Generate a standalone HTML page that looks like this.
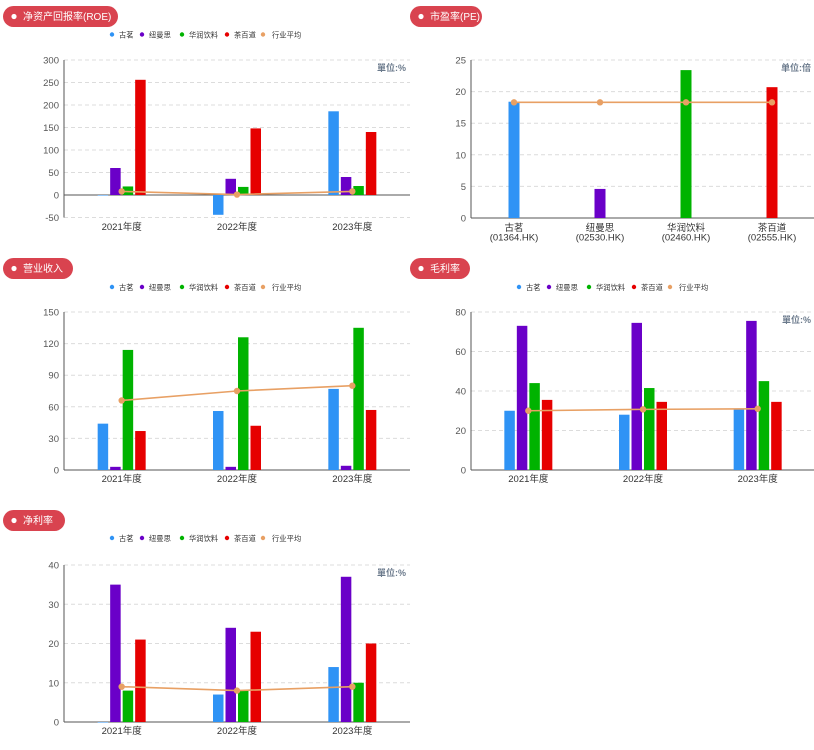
<!DOCTYPE html>
<html><head><meta charset="utf-8">
<style>
body{margin:0;background:#fff;width:814px;height:750px;overflow:hidden;font-family:"Liberation Sans","Noto Sans CJK SC",sans-serif;}
svg{display:block}
</style></head>
<body>
<svg id="chart" width="814" height="750" xmlns="http://www.w3.org/2000/svg" font-family="Liberation Sans, Noto Sans CJK SC, sans-serif"></svg>
<script>
const years = ["2021年度","2022年度","2023年度"];
const companies = ["古茗","纽曼思","华润饮料","茶百道"];
const companyColors = ["#2f93f5","#6a00c8","#00b300","#e60000"];
const avgColor = "#e8a064";

const roeGuming = [0,-44,186];
const roeNiuman = [60,36,40];
const roeHuarun = [19,18,20];
const roeChabai = [256,148,140];
const roeAvg = [8,1,8];
const roeTicks = [-50,0,50,100,150,200,250,300];

const peValues = [18.4,4.6,23.4,20.7];
const peAvg = [18.3,18.3,18.3,18.3];
const peCats = ["古茗\n(01364.HK)","纽曼思\n(02530.HK)","华润饮料\n(02460.HK)","茶百道\n(02555.HK)"];
const peTicks = [0,5,10,15,20,25];

const revGuming = [44,56,77];
const revNiuman = [3,3,4];
const revHuarun = [114,126,135];
const revChabai = [37,42,57];
const revAvg = [66,75,80];
const revTicks = [0,30,60,90,120,150];

const gmGuming = [30,28,31];
const gmNiuman = [73,74.5,75.5];
const gmHuarun = [44,41.5,45];
const gmChabai = [35.5,34.5,34.5];
const gmAvg = [30,30.7,31];
const gmTicks = [0,20,40,60,80];

const nmGuming = [0,7,14];
const nmNiuman = [35,24,37];
const nmHuarun = [8,8,10];
const nmChabai = [21,23,20];
const nmAvg = [9,8,9];
const nmTicks = [0,10,20,30,40];

const svg = document.getElementById('chart');
const NS = "http://www.w3.org/2000/svg";
function mk(tag, attrs, parent){
  const e = document.createElementNS(NS, tag);
  for (const k in attrs) e.setAttribute(k, attrs[k]);
  (parent||svg).appendChild(e);
  return e;
}

function header(x,y,w,title,key){
  const g = mk('g',{});
  
  
  mk('rect',{x:x,y:y,width:w,height:21,rx:10.5,fill:"#d9434f"},g);
  mk('circle',{cx:x+11,cy:y+10.5,r:2.6,fill:"#fff"},g);
  const t = mk('text',{x:x+20,y:y+14,'font-size':10,fill:"#fff"},g);
  t.textContent = title;
}

function legend(y,key,dx){
  const g = mk('g',{transform:"translate("+(dx||0)+",0)"});
  
  
  const dots=[112,142,182,227,263];
  const names=companies.concat(["行业平均"]);
  const cols=companyColors.concat([avgColor]);
  for(let i=0;i<5;i++){
    const it = mk('g',{},g);
    
    
    mk('circle',{cx:dots[i],cy:y,r:2.2,fill:cols[i]},it);
    const t = mk('text',{x:dots[i]+(i==4?9:7),y:y+2.8,'font-size':7.3,fill:"#333"},it);
    t.textContent=names[i];
  }
}

function chart(opt){
  const {key,x0,x1,yTop,yBot,ticks,cats,series,avg,unit,labelY} = opt;
  const g = mk('g',{});
  
  
  const tmin=ticks[0], tmax=ticks[ticks.length-1];
  const ys = v => yBot - (v - tmin)/(tmax-tmin)*(yBot-yTop);
  const band = (x1-x0)/cats.length;
  const xc = i => x0 + band*(i+0.5);
  ticks.forEach(t=>{
    const y=ys(t);
    if(t!==0){
      const l=mk('line',{x1:x0,x2:x1,y1:y,y2:y,stroke:"#dcdcdc",'stroke-dasharray':"4,3",'stroke-width':1},g);
      
      
    }
    const tx=mk('text',{x:x0-5,y:y+3.5,'font-size':9.5,fill:"#555",'text-anchor':"end"},g);
    tx.textContent=t;
  });
  mk('line',{x1:x0,x2:x0,y1:yTop,y2:yBot,stroke:"#555",'stroke-width':1},g);
  const zl = mk('line',{x1:x0,x2:x1,y1:ys(0),y2:ys(0),stroke:"#555",'stroke-width':1},g);
  
  
  if(unit){
    const u=mk('text',{x:x1-4,y:yTop+11,'font-size':9,fill:"#6b7a8c",'font-weight':"bold",'text-anchor':"end"},g);
    u.textContent=unit;
  }
  cats.forEach((c,i)=>{
    const lines=c.split("\n");
    lines.forEach((ln,j)=>{
      const t=mk('text',{x:xc(i),y:labelY+j*9.5,'font-size':9.5,fill:"#333",'text-anchor':"middle"},g);
      t.textContent=ln;
    });
  });
  const bw=10.5, gap=2;
  const n=series.length;
  const groupW=n*bw+(n-1)*gap;
  series.forEach((s,si)=>{
    s.values.forEach((v,i)=>{
      const bx = xc(i)-groupW/2 + si*(bw+gap);
      const y0=ys(0), y1=ys(v);
      const r=mk('rect',{x:bx,y:Math.min(y0,y1),width:bw,height:Math.max(0.5,Math.abs(y1-y0)),fill:s.color},g);
      
      
    });
  });
  const pts = avg.map((v,i)=>xc(i)+","+ys(v)).join(" ");
  const pl=mk('polyline',{points:pts,fill:"none",stroke:avgColor,'stroke-width':1.6},g);
  
  
  avg.forEach((v,i)=>{
    const c=mk('circle',{cx:xc(i),cy:ys(v),r:3.2,fill:avgColor},g);
    
    
  });
}

function four(a,b,c,d){
  return [a,b,c,d].map((v,i)=>({name:companies[i],color:companyColors[i],values:v}));
}

header(3,6,115,"净资产回报率(ROE)","roe");
legend(34.5,"roe");
chart({key:"roe",x0:64,x1:410,yTop:60,yBot:217.5,ticks:roeTicks,cats:years,series:four(roeGuming,roeNiuman,roeHuarun,roeChabai),avg:roeAvg,unit:"單位:%",labelY:230});

header(410,6,72,"市盈率(PE)","pe");
(function(){
  const x0=471,x1=815,yTop=60,yBot=218;
  const g=mk('g',{});
  
  
  const tmax=peTicks[peTicks.length-1];
  const ys=v=>yBot-v/tmax*(yBot-yTop);
  const band=(x1-x0)/peCats.length;
  const xc=i=>x0+band*(i+0.5);
  peTicks.forEach(t=>{
    const y=ys(t);
    if(t!==0) mk('line',{x1:x0,x2:x1,y1:y,y2:y,stroke:"#dcdcdc",'stroke-dasharray':"4,3"},g);
    const tx=mk('text',{x:x0-5,y:y+3.5,'font-size':9.5,fill:"#555",'text-anchor':"end"},g);
    tx.textContent=t;
  });
  mk('line',{x1:x0,x2:x0,y1:yTop,y2:yBot,stroke:"#555"},g);
  mk('line',{x1:x0,x2:x1,y1:yBot,y2:yBot,stroke:"#555"},g);
  const u=mk('text',{x:x1-4,y:yTop+11,'font-size':9,fill:"#6b7a8c",'font-weight':"bold",'text-anchor':"end"},g);
  u.textContent="单位:倍";
  peCats.forEach((c,i)=>{
    c.split("\n").forEach((ln,j)=>{
      const t=mk('text',{x:xc(i),y:231+j*9.5,'font-size':9.5,fill:"#333",'text-anchor':"middle"},g);
      t.textContent=ln;
    });
  });
  peValues.forEach((v,i)=>{
    const r=mk('rect',{x:xc(i)-5.5,y:ys(v),width:11,height:yBot-ys(v),fill:companyColors[i]},g);
    
    
  });
  const pl=mk('polyline',{points:peAvg.map((v,i)=>xc(i)+","+ys(v)).join(" "),fill:"none",stroke:avgColor,'stroke-width':1.6},g);
  
  
  peAvg.forEach((v,i)=>{
    const c=mk('circle',{cx:xc(i),cy:ys(v),r:3.2,fill:avgColor},g);
    
    
  });
})();

header(3,258,70,"营业收入","rev");
legend(287,"rev");
chart({key:"rev",x0:64,x1:410,yTop:312,yBot:470,ticks:revTicks,cats:years,series:four(revGuming,revNiuman,revHuarun,revChabai),avg:revAvg,unit:null,labelY:482});

header(410,258,60,"毛利率","gm");
legend(287,"gm",407);
chart({key:"gm",x0:471,x1:815,yTop:312,yBot:470,ticks:gmTicks,cats:years,series:four(gmGuming,gmNiuman,gmHuarun,gmChabai),avg:gmAvg,unit:"單位:%",labelY:482});

header(3,510,62,"净利率","nm");
legend(538,"nm");
chart({key:"nm",x0:64,x1:410,yTop:565,yBot:722,ticks:nmTicks,cats:years,series:four(nmGuming,nmNiuman,nmHuarun,nmChabai),avg:nmAvg,unit:"單位:%",labelY:734});
</script>
</body></html>
